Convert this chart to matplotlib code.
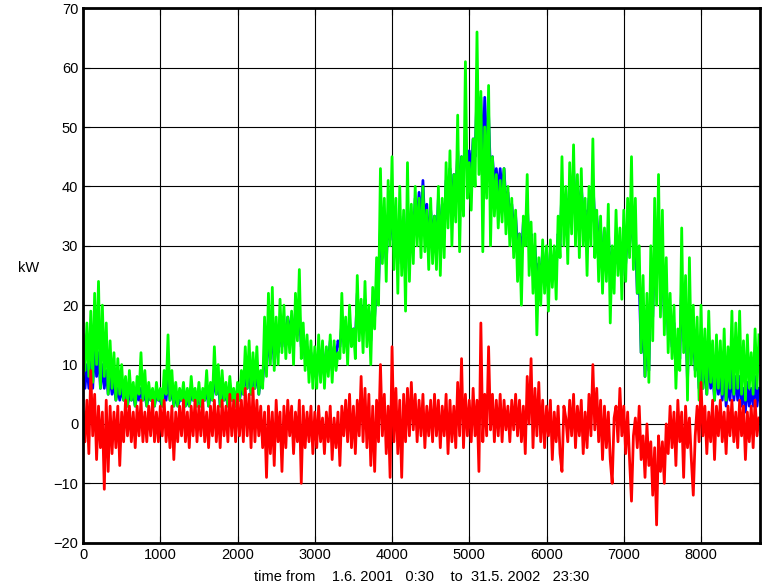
import numpy as np
import matplotlib.pyplot as plt

plt.rcParams['font.family'] = ['Liberation Sans', 'DejaVu Sans']

# one value every 25 hours, 1.6.2001 .. 31.5.2002
hours = np.arange(0, 8760, 25)

green = [
    15, 9, 17, 8, 19, 7, 22, 10, 24, 6, 20, 8, 17, 5, 14, 6, 12, 4, 11, 5,
    10, 4, 8, 3, 9, 4, 7, 3, 8, 5, 12, 4, 9, 3, 7, 4, 6, 3, 7, 4,
    6, 3, 9, 5, 15, 4, 9, 3, 7, 3, 6, 4, 7, 3, 6, 3, 8, 4, 6, 3,
    7, 3, 6, 4, 9, 3, 7, 4, 13, 5, 10, 3, 9, 4, 7, 3, 8, 4, 6, 3,
    7, 4, 9, 5, 13, 6, 14, 5, 12, 6, 13, 5, 9, 6, 18, 8, 22, 10, 23, 9,
    18, 10, 21, 12, 20, 11, 18, 12, 19, 10, 22, 14, 26, 11, 17, 9, 15, 7, 14, 6,
    13, 6, 15, 7, 14, 6, 13, 8, 15, 7, 14, 9, 12, 11, 22, 12, 18, 10, 20, 13,
    16, 11, 25, 14, 21, 12, 24, 13, 20, 10, 23, 16, 28, 20, 43, 27, 38, 24, 41, 30,
    45, 26, 38, 22, 40, 25, 36, 19, 44, 24, 37, 27, 40, 30, 38, 28, 40, 29, 36, 26,
    38, 27, 35, 26, 40, 25, 38, 28, 44, 33, 46, 30, 42, 34, 52, 29, 45, 35, 61, 38,
    44, 36, 48, 40, 66, 42, 56, 29, 50, 38, 57, 30, 45, 35, 42, 33, 41, 34, 43, 32,
    40, 30, 38, 28, 36, 24, 32, 20, 35, 30, 42, 25, 34, 22, 32, 15, 28, 20, 31, 22,
    30, 19, 31, 23, 30, 21, 35, 28, 45, 30, 40, 27, 44, 32, 47, 30, 42, 28, 43, 30,
    38, 25, 40, 30, 48, 28, 36, 24, 35, 22, 33, 24, 37, 17, 30, 22, 36, 25, 33, 21,
    36, 24, 38, 28, 45, 26, 38, 22, 30, 12, 25, 8, 22, 7, 30, 14, 38, 20, 42, 18,
    36, 15, 28, 12, 22, 11, 20, 6, 16, 9, 33, 12, 25, 4, 28, 10, 20, 8, 18, 4,
    20, 6, 16, 5, 19, 7, 14, 4, 15, 6, 14, 5, 16, 4, 13, 6, 19, 5, 17, 6,
    19, 5, 14, 4, 15, 6, 12, 5, 16, 6, 15,
]

blue = [
    8, 6, 10, 6, 11, 6, 13, 8, 12, 6, 10, 6, 9, 5, 8, 5, 7, 4, 6, 4,
    6, 4, 5, 3, 5, 4, 5, 3, 5, 4, 6, 4, 5, 3, 5, 4, 4, 3, 5, 4,
    4, 3, 6, 4, 8, 4, 6, 3, 5, 3, 4, 4, 5, 3, 4, 3, 5, 4, 4, 3,
    5, 3, 4, 4, 6, 3, 5, 4, 8, 5, 7, 3, 6, 4, 5, 3, 5, 4, 4, 3,
    5, 4, 6, 5, 9, 6, 10, 5, 9, 6, 9, 5, 8, 7, 12, 9, 15, 11, 16, 10,
    14, 12, 17, 13, 17, 14, 18, 15, 18, 14, 19, 15, 19, 13, 15, 11, 13, 9, 12, 8,
    11, 8, 12, 9, 13, 8, 12, 10, 14, 9, 13, 11, 14, 13, 17, 14, 16, 13, 17, 15,
    16, 14, 22, 17, 20, 16, 21, 16, 19, 14, 20, 18, 24, 23, 33, 28, 33, 27, 35, 31,
    36, 30, 34, 27, 35, 28, 33, 25, 37, 29, 35, 31, 38, 34, 39, 33, 41, 33, 37, 30,
    36, 31, 35, 30, 38, 30, 37, 32, 41, 36, 43, 36, 42, 38, 46, 37, 45, 42, 48, 44,
    46, 42, 48, 45, 56, 48, 55, 44, 55, 47, 52, 42, 45, 40, 43, 39, 43, 39, 43, 37,
    39, 35, 37, 33, 35, 30, 32, 28, 34, 32, 37, 30, 32, 27, 30, 24, 27, 25, 29, 25,
    27, 24, 29, 26, 28, 26, 32, 30, 40, 34, 38, 33, 41, 36, 43, 36, 40, 35, 40, 35,
    36, 31, 38, 34, 41, 34, 35, 30, 33, 28, 31, 28, 33, 24, 29, 26, 31, 27, 30, 25,
    31, 27, 33, 30, 36, 30, 32, 22, 24, 12, 18, 8, 17, 9, 24, 18, 31, 25, 34, 24,
    28, 18, 24, 15, 19, 13, 17, 9, 14, 11, 24, 14, 19, 7, 20, 12, 15, 9, 13, 6,
    12, 6, 11, 5, 12, 6, 9, 4, 9, 5, 8, 4, 9, 3, 7, 4, 9, 4, 8, 4,
    8, 3, 6, 2, 7, 3, 6, 3, 8, 3, 6,
]

red = [
    2, -3, 4, -5, 9, -2, 5, -6, 3, -4, 2, -11, 4, -8, 3, -5, 2, -4, 3, -7,
    2, -3, 4, -2, 3, -3, 2, -4, 3, -2, 4, -3, 2, -3, 3, -2, 4, -3, 2, -3,
    3, -2, 4, -3, 2, -4, 3, -6, 2, -3, 3, -2, 4, -3, 2, -4, 3, -2, 4, -3,
    3, -2, 4, -3, 2, -4, 3, -2, 4, -3, 3, -4, 4, -2, 3, -3, 5, -2, 4, -3,
    5, -2, 4, -3, 6, -2, 5, -4, 6, -3, 4, -2, 3, -4, 2, -9, 3, -5, 2, -7,
    4, -3, 2, -8, 3, -4, 4, -2, 3, -5, 2, -3, 4, -10, 3, -4, 2, -3, 3, -5,
    2, -4, 3, -3, 1, -5, 2, -3, 3, -6, 1, -4, 2, -7, 3, -2, 4, -3, 5, -4,
    3, -5, 4, -2, 8, -3, 6, -4, 5, -7, 3, -8, 4, -3, 10, -2, 5, -5, 3, -9,
    13, -3, 6, -5, 4, -9, 5, -3, 6, -2, 7, -1, 5, -3, 4, -2, 5, -4, 3, -2,
    4, -3, 5, -2, 4, -4, 3, -2, 5, -5, 4, -3, 3, -4, 7, -2, 11, -4, 5, -2,
    4, -3, 6, -2, 4, -8, 17, -3, 5, -2, 13, -1, 5, -3, 4, -2, 5, -3, 4, -1,
    3, -3, 4, -1, 5, -2, 4, -3, 3, -5, 8, 0, 11, -4, 6, -2, 7, -3, 4, -4,
    3, -2, 4, -6, 2, -3, 3, -5, -8, 3, 1, -3, 4, -2, 5, -4, 3, -2, 4, -5,
    2, -4, 5, -2, 10, -1, 6, -3, 4, -6, 3, -4, 2, -6, -10, 1, 3, -3, 6, -2,
    3, -5, 2, -6, -13, -2, 1, -4, 3, -6, -2, -9, 0, -7, -3, -12, -4, -17, -2, -8,
    -3, -10, 0, -5, 3, -4, 2, -7, 4, -3, 2, -9, 3, -4, 1, -6, -12, -2, 3, -3,
    7, -2, 3, -5, 2, -3, 4, -6, 3, -2, 4, -3, 2, -5, 3, -2, 4, -3, 2, -4,
    4, -2, 3, -6, 2, -3, 3, -4, 4, -2, 1,
]

fig = plt.figure(figsize=(7.62, 5.88), dpi=100)
ax = fig.add_axes([0.109, 0.077, 0.888, 0.909])

ax.plot(hours, blue, color='#0000ff', lw=2.0)
ax.plot(hours, green, color='#00ff00', lw=2.0)
ax.plot(hours, red, color='#ff0000', lw=2.0)

ax.set_xlim(0, 8760)
ax.set_ylim(-20, 70)
ax.set_xticks(np.arange(0, 9000, 1000))
ax.set_yticks(np.arange(-20, 80, 10))
ax.grid(True, color='black', linestyle='-', linewidth=0.8)
ax.tick_params(direction='in', length=5, top=True, right=True, labelsize=10.5)
for s in ax.spines.values():
    s.set_linewidth(2)

ax.set_ylabel('kW', rotation=0, fontsize=10.5, labelpad=18)
ax.set_xlabel('time from    1.6. 2001   0:30    to  31.5. 2002   23:30',
              fontsize=10.5, labelpad=6)

fig.savefig('out.png', dpi=100)
